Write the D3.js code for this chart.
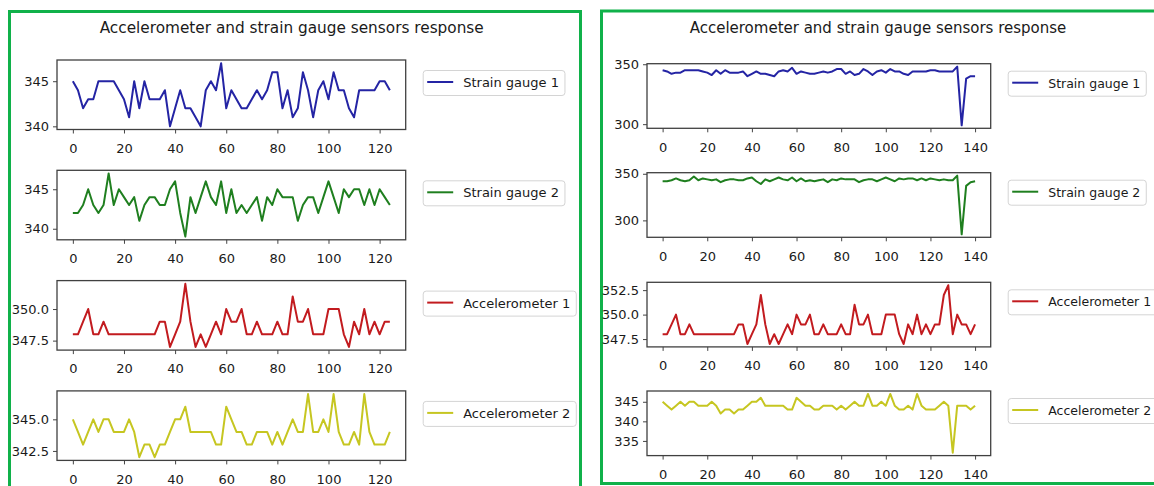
<!DOCTYPE html>
<html>
<head>
<meta charset="utf-8">
<script src="https://cdn.jsdelivr.net/npm/d3@7.9.0/dist/d3.min.js"></script>
<style>
  body { margin: 0; background: #fff; }
  svg { display: block; font-family: "DejaVu Sans", sans-serif; }
</style>
</head>
<body>
<svg id="chart" width="1154" height="486"></svg>
<script>
// readings taken every 2 samples, 0..124 in the short run
const sampleStep = 2;

const strain1 = [345, 344, 342, 343, 343, 345, 345, 345, 345, 344,
  343, 341, 345, 342, 345, 343, 343, 343, 344, 340,
  342, 344, 342, 342, 341, 340, 344, 345, 344, 347,
  342, 344, 343, 342, 342, 343, 344, 343, 344, 346,
  346, 342, 344, 341, 342, 346, 344, 341, 344, 345,
  343, 346, 344, 344, 342, 341, 344, 344, 344, 344,
  345, 345, 344];

const strain2 = [342, 342, 343, 345, 343, 342, 343, 347, 343, 345,
  344, 343, 344, 341, 343, 344, 344, 343, 343, 345,
  346, 342, 339, 344, 342, 344, 346, 344, 343, 346,
  342, 345, 342, 343, 342, 343, 344, 341, 344, 343,
  345, 344, 344, 344, 341, 343, 344, 344, 342, 344,
  346, 344, 342, 345, 344, 345, 345, 343, 345, 343,
  345, 344, 343];

const accel1 = [348, 348, 349, 350, 348, 348, 349, 348, 348, 348,
  348, 348, 348, 348, 348, 348, 348, 349, 349, 347,
  348, 349, 352, 349, 347, 348, 347, 348, 349, 348,
  350, 349, 349, 350, 348, 348, 349, 348, 348, 348,
  349, 348, 348, 351, 349, 349, 350, 348, 348, 348,
  350, 350, 350, 348, 347, 349, 348, 350, 348, 349,
  348, 349, 349];

const accel2 = [345, 344, 343, 344, 345, 344, 345, 345, 344, 344,
  344, 345, 344, 342, 343, 343, 342, 343, 343, 344,
  345, 345, 346, 344, 344, 344, 344, 344, 343, 343,
  346, 345, 344, 344, 343, 343, 344, 344, 344, 343,
  344, 343, 344, 345, 344, 344, 347, 344, 344, 345,
  344, 347, 344, 343, 343, 344, 343, 347, 344, 343,
  343, 343, 344];

// the longer run goes on to 140
const strain1Tail = [344, 344, 344, 348, 299, 338, 340, 340];
const strain2Tail = [344, 343, 343, 348, 285, 337, 341, 342];
const accel1Tail = [352, 353, 348, 350, 349, 349, 348, 349];
const accel2Tail = [345, 344, 332, 344, 344, 344, 343, 344];

const labels = ['Strain gauge 1', 'Strain gauge 2', 'Accelerometer 1', 'Accelerometer 2'];
const colors = ['#2424a4', '#1f7f1f', '#c21b1f', '#c6c621'];

const leftXTicks = [0, 20, 40, 60, 80, 100, 120];
const rightXTicks = [0, 20, 40, 60, 80, 100, 120, 140];
const leftYTicks = [[340, 345], [340, 345], [347.5, 350], [342.5, 345]];
const rightYTicks = [[300, 350], [300, 350], [347.5, 350, 352.5], [335, 340, 345]];

const title = 'Accelerometer and strain gauge sensors response';

const svg = d3.select('#chart');

// green boxes round the two screenshots
svg.append('rect').attr('x', 9.5).attr('y', 11.5).attr('width', 571).attr('height', 490)
  .attr('fill', 'none').attr('stroke', '#10b14a').attr('stroke-width', 3);
svg.append('rect').attr('x', 601.5).attr('y', 11).attr('width', 570).attr('height', 472.5)
  .attr('fill', 'none').attr('stroke', '#10b14a').attr('stroke-width', 3);

function drawPanel(opt) {
  const g = svg.append('g');

  g.append('text')
    .attr('x', opt.titleX).attr('y', 28)
    .attr('text-anchor', 'middle').attr('dominant-baseline', 'central')
    .attr('font-size', opt.titleSize).attr('fill', '#1a1a1a')
    .text(title);

  opt.series.forEach((values, idx) => {
    const top = opt.tops[idx];
    const bottom = top + opt.height;
    const xMax = (values.length - 1) * sampleStep;
    const x = d3.scaleLinear()
      .domain([-xMax * 0.05, xMax * 1.05])
      .range([opt.left, opt.right]);
    const [lo, hi] = d3.extent(values);
    const pad = (hi - lo) * 0.05;
    const y = d3.scaleLinear().domain([lo - pad, hi + pad]).range([bottom, top]);

    const ax = g.append('g').attr('transform', `translate(0,${bottom})`)
      .call(d3.axisBottom(x).tickValues(opt.xTicks).tickSize(4).tickPadding(7).tickFormat(d3.format('d')));
    const ay = g.append('g').attr('transform', `translate(${opt.left},0)`)
      .call(d3.axisLeft(y).tickValues(opt.yTicks[idx]).tickSize(4).tickPadding(4)
        .tickFormat(opt.yTicks[idx].some(v => v % 1) ? d3.format('.1f') : d3.format('d')));
    [ax, ay].forEach(a => {
      a.select('.domain').remove();
      a.selectAll('line').attr('stroke', '#444').attr('stroke-width', 1);
      a.selectAll('text').attr('font-size', 13).attr('fill', '#1a1a1a')
        .attr('font-family', '"DejaVu Sans", sans-serif');
    });
    ax.selectAll('text').attr('dy', '0.95em');

    g.append('path')
      .datum(values)
      .attr('fill', 'none')
      .attr('stroke', colors[idx])
      .attr('stroke-width', 2)
      .attr('stroke-linejoin', 'round')
      .attr('d', d3.line().x((d, i) => x(i * sampleStep)).y(d => y(d)));

    g.append('rect')
      .attr('x', opt.left).attr('y', top)
      .attr('width', opt.right - opt.left).attr('height', opt.height)
      .attr('fill', 'none').attr('stroke', '#404040').attr('stroke-width', 1.3);

    // legend to the right of each plot
    const lx = opt.right + 17.5;
    const ly = top + opt.legendDy;
    const leg = g.append('g').attr('transform', `translate(${lx},${ly})`);
    const box = leg.append('rect').attr('height', 25).attr('rx', 3)
      .attr('fill', '#fff').attr('stroke', '#d4d4d4').attr('stroke-width', 1);
    leg.append('line').attr('x1', 4).attr('x2', 30).attr('y1', 11.5).attr('y2', 11.5)
      .attr('stroke', colors[idx]).attr('stroke-width', 2);
    const t = leg.append('text').attr('x', 40).attr('y', 12)
      .attr('dominant-baseline', 'central').attr('font-size', opt.legendSize).attr('fill', '#1a1a1a')
      .text(labels[idx]);
    box.attr('width', 40 + t.node().getComputedTextLength() + 6);
  });
}

drawPanel({
  series: [strain1, strain2, accel1, accel2],
  left: 57, right: 405.7,
  tops: [60, 170.3, 280.6, 390.9], height: 69.5,
  xTicks: leftXTicks, yTicks: leftYTicks,
  titleX: 291.7, titleSize: 15.3, legendDy: 10.5, legendSize: 13
});

drawPanel({
  series: [strain1.concat(strain1Tail), strain2.concat(strain2Tail),
           accel1.concat(accel1Tail), accel2.concat(accel2Tail)],
  left: 647, right: 990.7,
  tops: [63.7, 172.7, 282.3, 391], height: 64.6,
  xTicks: rightXTicks, yTicks: rightYTicks,
  titleX: 878, titleSize: 15, legendDy: 7.5, legendSize: 12.5
});
</script>
</body>
</html>
